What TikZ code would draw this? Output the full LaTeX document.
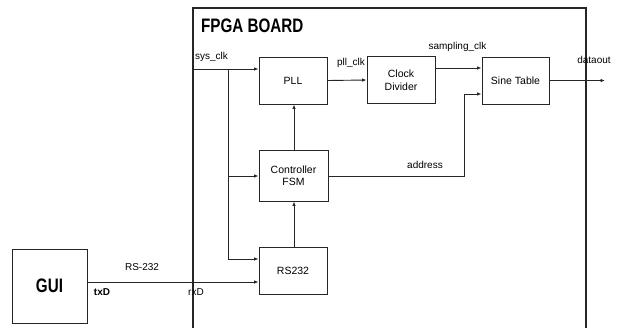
\documentclass[tikz,border=0pt]{standalone}
\usepackage{fontspec}
\setmainfont{Liberation Sans}
\newfontfamily\narrowfont[FakeStretch=0.78]{Liberation Sans}
\usetikzlibrary{arrows.meta}
\tikzset{
  blk/.style={draw=black!85, line width=0.9pt, minimum width=68pt, minimum height=47pt, inner sep=0pt, align=center, font=\fontsize{10.5}{12.5}\selectfont},
  conn/.style={draw=black!85, line width=0.9pt},
  arr/.style={conn, -{Latex[length=4.5pt,width=3.5pt]}},
  lbl/.style={inner sep=0pt, font=\fontsize{10}{12}\selectfont},
  blbl/.style={inner sep=0pt, font=\fontsize{10}{12}\selectfont\bfseries},
}
\begin{document}
\begin{tikzpicture}[x=1pt,y=-1pt]
\useasboundingbox[fill=white] (0,0) rectangle (617,327);
% board
\draw[conn, line width=1.1pt] (193,335) -- (193,8) -- (586,8) -- (586,335);
\node[inner sep=0pt, anchor=west, font=\fontsize{19.5}{22}\narrowfont\bfseries] (board) at (201,25.5) {FPGA BOARD};
% blocks
\node[blk] (pll) at (293,80.5) {PLL};
\node[blk] (clk) at (401,80) {Clock\\Divider};
\node[blk, minimum width=67pt] (sine) at (515.5,80.5) {Sine Table};
\node[blk, minimum width=69pt, minimum height=51pt] (fsm) at (293.5,175.5) {Controller\\FSM};
\node[blk] (rs) at (293,270.5) {RS232};
\node[blk, minimum width=75pt, minimum height=74pt, font=\fontsize{19.5}{22}\narrowfont\bfseries] (gui) at (49.5,286) {GUI};
% coordinates
\coordinate (sysin) at (193,69);
\coordinate (br) at (228,69);
\coordinate (addr) at (464,176);
\coordinate (dout) at (605,80.5);
% connectors
\draw[arr] (sysin) -- (sysin -| pll.west);
\draw[conn] (br) -- (228,259);
\draw[arr] (228,176) -- (228,176 -| fsm.west);
\draw[arr] (228,259) -- (228,259 -| rs.west);
\draw[arr] (pll.east) -- (clk.west);
\draw[arr] (clk.east |- 0,68) -- (sine.west |- 0,68);
\draw[arr] (fsm.east |- addr) -- (addr) |- (sine.west |- 0,94);
\draw[arr] (sine.east) -- (dout);
\draw[arr] (fsm.north -| 294,0) -- (pll.south -| 294,0);
\draw[arr] (rs.north -| 294,0) -- (fsm.south -| 294,0);
\draw[arr] (gui.east |- 0,282) -- (rs.west |- 0,282);
% labels
\node[lbl] (lsys) at (211.5,57) {sys\_clk};
\node[lbl] (lpll) at (351,63) {pll\_clk};
\node[lbl] (lsamp) at (457.5,47) {sampling\_clk};
\node[lbl] (ldata) at (594,60) {dataout};
\node[lbl] (laddr) at (425,165) {address};
\node[lbl] (lrs) at (142,267) {RS-232};
\node[blbl] (ltx) at (102,292) {txD};
\node[lbl] (lrx) at (196,292) {rxD};
\end{tikzpicture}
\end{document}
